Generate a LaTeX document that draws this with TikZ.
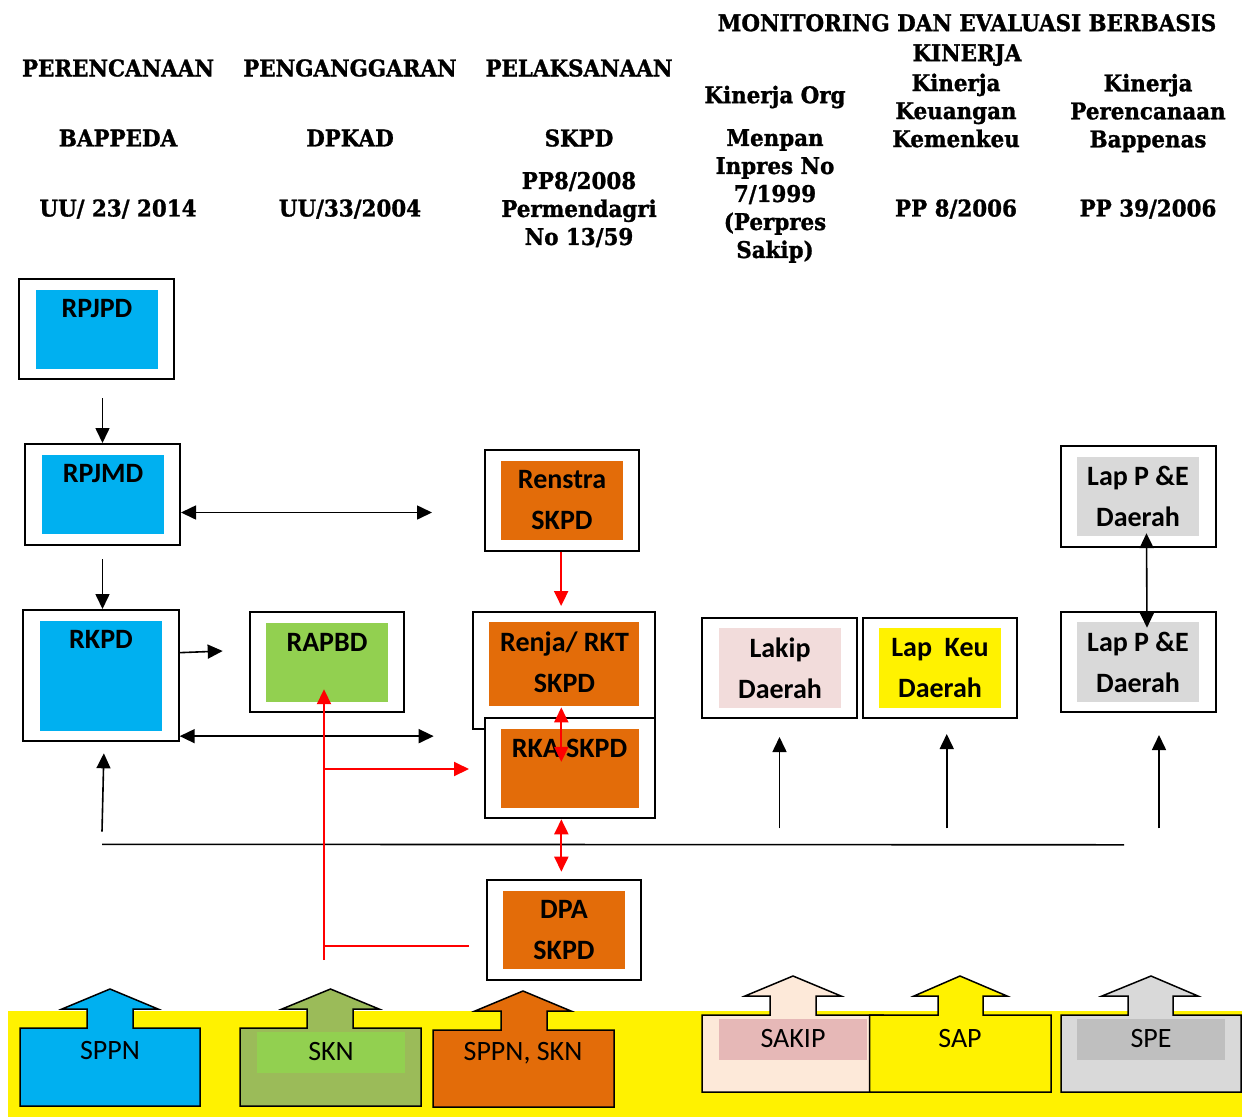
\documentclass[tikz,border=0pt]{standalone}
\usepackage{fontspec}
\setmainfont{Carlito}
\newfontfamily\headfont{DejaVu Serif}[FakeStretch=0.93,BoldFeatures={FakeBold=1.2}]
\usetikzlibrary{arrows.meta}
\definecolor{skyblue}{HTML}{00B0F0}
\definecolor{leafgreen}{HTML}{92D050}
\definecolor{olive}{HTML}{9BBB59}
\definecolor{burnt}{HTML}{E36C09}
\definecolor{blush}{HTML}{F2DCDB}
\definecolor{ashgray}{HTML}{D9D9D9}
\definecolor{midgray}{HTML}{BFBFBF}
\definecolor{peach}{HTML}{FDE9D9}
\definecolor{rose}{HTML}{E6B8B7}

\begin{document}
\begin{tikzpicture}[x=1pt,y=-1pt,
  frame/.style={draw,line width=2pt,fill=white,inner sep=0pt},
  panel/.style={fill=#1,inner sep=0pt},
  word/.style={font=\fontsize{28}{41}\selectfont\bfseries,align=center,inner sep=0pt},
  head/.style={font=\headfont\bfseries\fontsize{23}{28}\selectfont,align=center,inner sep=0pt},
  tag/.style={font=\fontsize{28}{34}\selectfont,inner sep=0pt},
  blk/.style={draw,line width=1.5pt,fill=#1},
  link/.style={line width=1.6pt,-{Triangle[length=15pt,width=14pt]}},
  twoway/.style={line width=1.6pt,{Triangle[length=15pt,width=14pt]}-{Triangle[length=15pt,width=14pt]}},
  redlink/.style={link,red,line width=2pt},
  redtwo/.style={twoway,red,line width=2pt}]
\useasboundingbox (0,0) rectangle (1242,1117);

\node[head] (perencanaan) at (118,68) {PERENCANAAN};
\node[head] (penganggaran) at (350,68) {PENGANGGARAN};
\node[head] (pelaksanaan) at (579,68) {PELAKSANAAN};
\node[head] (monev) at (967,40) {MONITORING DAN EVALUASI BERBASIS\\[2pt]KINERJA};
\node[head] (kinorg) at (775,97) {Kinerja Org};
\node[head] (kinkeu) at (956,110.5) {Kinerja\\Keuangan\\Kemenkeu};
\node[head] (kinren) at (1148,113) {Kinerja\\Perencanaan\\Bappenas};
\node[head] (bappeda) at (118,138) {BAPPEDA};
\node[head] (dpkad) at (350,138) {DPKAD};
\node[head] (skpd) at (579,138) {SKPD};
\node[head] (menpan) at (775,196) {Menpan\\Inpres No\\7/1999\\(Perpres\\Sakip)};
\node[head] (uu23) at (118,209) {UU/ 23/ 2014};
\node[head] (uu33) at (350,209) {UU/33/2004};
\node[head] (pp8) at (579,209.5) {PP8/2008\\Permendagri\\No 13/59};
\node[head] (pp82006) at (956,209) {PP 8/2006};
\node[head] (pp39) at (1148,209) {PP 39/2006};

\node[frame,minimum width=155pt,minimum height=100pt] (rpjpd) at (96.5,329) {};
\node[panel=skyblue,minimum width=122pt,minimum height=79pt] (rpjpd-in) at (97,329.5) {};
\node[word] (rpjpd-t) at (97,309) {RPJPD};

\node[frame,minimum width=155pt,minimum height=101pt] (rpjmd) at (102.5,494.5) {};
\node[panel=skyblue,minimum width=122pt,minimum height=79pt] (rpjmd-in) at (103,494.5) {};
\node[word] (rpjmd-t) at (103,473.5) {RPJMD};

\node[frame,minimum width=155.7pt,minimum height=131.3pt] (rkpd) at (100.85,675.65) {};
\node[panel=skyblue,minimum width=122pt,minimum height=110pt] (rkpd-in) at (101,676) {};
\node[word] (rkpd-t) at (101,639.5) {RKPD};

\node[frame,minimum width=154.6pt,minimum height=100.6pt] (rapbd) at (327,662) {};
\node[panel=leafgreen,minimum width=122pt,minimum height=79pt] (rapbd-in) at (327,662.5) {};
\node[word] (rapbd-t) at (327,642) {RAPBD};

\node[frame,minimum width=154.3pt,minimum height=100.7pt] (renstra) at (562.15,500.35) {};
\node[panel=burnt,minimum width=122pt,minimum height=78.7pt] (renstra-in) at (562,500.35) {};
\node[word] (renstra-t) at (562,500.5) {Renstra\\SKPD};

\node[frame,minimum width=182.6pt,minimum height=116.7pt] (renja) at (564,670.35) {};
\node[panel=burnt,minimum width=150pt,minimum height=83.4pt] (renja-in) at (564,664) {};
\node[word] (renja-t) at (564.5,662.5) {Renja/ RKT\\SKPD};

\node[frame,minimum width=170.3pt,minimum height=100pt] (rka) at (570.15,768.3) {};
\node[panel=burnt,minimum width=138pt,minimum height=78.7pt] (rka-in) at (570,768.35) {};
\node[word] (rka-t) at (569.5,748) {RKA SKPD};

\node[frame,minimum width=154pt,minimum height=100pt] (dpa) at (564,930) {};
\node[panel=burnt,minimum width=122pt,minimum height=78pt] (dpa-in) at (564,930) {};
\node[word] (dpa-t) at (564,930.5) {DPA\\SKPD};

\node[frame,minimum width=155pt,minimum height=100.3pt] (lakip) at (779.5,667.85) {};
\node[panel=blush,minimum width=122pt,minimum height=79.7pt] (lakip-in) at (780,667.85) {};
\node[word] (lakip-t) at (780,668) {Lakip\\Daerah};

\node[frame,minimum width=154.5pt,minimum height=100.3pt] (lapkeu) at (939.75,667.85) {};
\node[panel=yellow,minimum width=122pt,minimum height=79.7pt] (lapkeu-in) at (940,667.85) {};
\node[word] (lapkeu-t) at (940,668) {Lap\ \ Keu\\Daerah};

\node[frame,minimum width=155pt,minimum height=100.7pt] (lappe1) at (1138.5,496.35) {};
\node[panel=ashgray,minimum width=122pt,minimum height=79pt] (lappe1-in) at (1138,496.5) {};
\node[word] (lappe1-t) at (1138,496.5) {Lap P \&E\\Daerah};

\node[frame,minimum width=155pt,minimum height=100.3pt] (lappe2) at (1138.5,661.85) {};
\node[panel=ashgray,minimum width=122pt,minimum height=79.7pt] (lappe2-in) at (1138,661.85) {};
\node[word] (lappe2-t) at (1138,662.5) {Lap P \&E\\Daerah};

\draw[link] ([yshift=-18pt]rpjpd.south -| rpjmd.north) -- (rpjmd.north);
\draw[twoway] ([yshift=-18pt]rpjmd.east) -- ++(251,0);
\draw[link] ([yshift=-13pt]rpjmd.south) -- (rkpd.north -| rpjmd.south);
\draw[link] ([yshift=23pt]rkpd.east) -- ([xshift=-26pt,yshift=11pt]rapbd.west);
\draw[twoway] ([yshift=-60.5pt]rkpd.east) -- ++(254,0);

\coordinate (busw) at (102,844.3);
\coordinate (buse) at (1124,844.8);
\draw[line width=1.6pt] (busw) -- (buse);
\draw[link] ([yshift=12.6pt]busw) -- ([xshift=3pt,yshift=-11pt]rkpd.south);
\draw[link] ([yshift=16pt]busw -| lakip.south) -- ([yshift=-18pt]lakip.south);
\draw[link] ([xshift=7pt,yshift=16pt]busw -| lapkeu.south) -- ([xshift=7pt,yshift=-15pt]lapkeu.south);
\draw[link] ([xshift=20.5pt,yshift=16pt]busw -| lappe2.south) -- ([xshift=20.5pt,yshift=-22pt]lappe2.south);
\draw[twoway] ([xshift=8.5pt,yshift=3pt]lappe1-in.south) -- ([xshift=8.5pt,yshift=-17pt]lappe2.north);

\coordinate (redfoot) at (324,960);
\coordinate (redfork) at (324,769);
\coordinate (redbase) at (324,946);
\draw[redlink] (redfoot) -- ([yshift=13pt]rapbd-in.south -| redfoot);
\draw[redlink] (redfork) -- ([xshift=-15pt]rka.west |- redfork);
\draw[red,line width=2pt] ([xshift=-17pt]dpa.west |- redbase) -- (redbase);
\draw[redlink] ([xshift=-1pt]renstra.south) -- ([xshift=-1pt,yshift=5pt]renstra.south |- renja.north);
\draw[redtwo] ([xshift=-2.7pt,yshift=-1.5pt]renja-in.south) -- ++(0,54.5);
\draw[redtwo] ([xshift=-8.8pt]rka.south) -- ++(0,52.4);

\fill[yellow] (8,1011) rectangle (1242,1117);
\draw[blk=skyblue] (20,1028) -- (87,1028) -- (87,1009) -- (62,1009) -- (110,989) -- (158,1009) -- (133,1009) -- (133,1028) -- (200,1028) -- (200,1106) -- (20,1106) -- cycle;
\draw[blk=olive] (240,1028) -- (307,1028) -- (307,1009) -- (282,1009) -- (330.5,989) -- (379,1009) -- (353,1009) -- (353,1028) -- (421,1028) -- (421,1106) -- (240,1106) -- cycle;
\fill[leafgreen] (257,1032) rectangle (405,1073);
\draw[blk=burnt] (433,1030) -- (501,1030) -- (501,1011) -- (475,1011) -- (523,991) -- (571,1011) -- (547,1011) -- (547,1030) -- (614,1030) -- (614,1107) -- (433,1107) -- cycle;
\draw[blk=peach] (702,1015) -- (770,1015) -- (770,996) -- (745,996) -- (793,976) -- (841,996) -- (816,996) -- (816,1015) -- (883,1015) -- (883,1092) -- (702,1092) -- cycle;
\fill[rose] (719,1019) rectangle (867,1060);
\draw[blk=yellow] (869.5,1015) -- (938,1015) -- (938,996) -- (914,996) -- (960,976) -- (1007,996) -- (983,996) -- (983,1015) -- (1051,1015) -- (1051,1092) -- (869.5,1092) -- cycle;
\draw[blk=ashgray] (1061,1015) -- (1128,1015) -- (1128,996) -- (1102,996) -- (1151,976) -- (1198,996) -- (1173,996) -- (1173,1015) -- (1241,1015) -- (1241,1092) -- (1061,1092) -- cycle;
\fill[midgray] (1077,1019) rectangle (1225,1060);

\node[tag] (sppn) at (110,1050) {SPPN};
\node[tag] (skn) at (331,1051) {SKN};
\node[tag] (sppnskn) at (523,1053) {SPPN, SKN};
\node[tag] (sakip) at (793,1038) {SAKIP};
\node[tag] (sap) at (960,1038) {SAP};
\node[tag] (spe) at (1151,1038) {SPE};
\end{tikzpicture}
\end{document}
